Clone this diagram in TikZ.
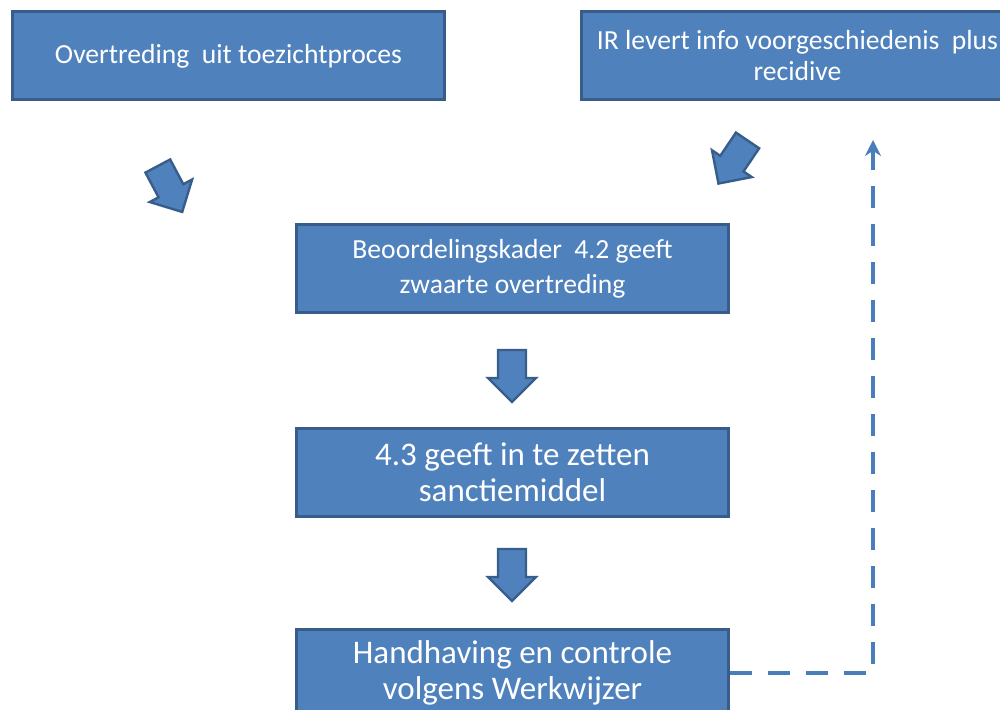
\documentclass[tikz,border=0pt]{standalone}
\usepackage{fontspec}
\setmainfont{Carlito}
\usetikzlibrary{arrows.meta}
\definecolor{vulblauw}{HTML}{4F81BD}
\definecolor{randblauw}{HTML}{385D8A}
\definecolor{lijnblauw}{HTML}{4A7EBB}

\tikzset{
  stap/.style={draw=randblauw, line width=1.5pt, fill=vulblauw, text=white,
    minimum width=216pt, minimum height=44pt, align=center, inner sep=0pt,
    font=\fontsize{13.8}{15.5}\selectfont},
  middenstap/.style={stap, font=\fontsize{13.8}{17.5}\selectfont},
  grotestap/.style={stap, font=\fontsize{16.5}{18}\selectfont},
  blok/.style={draw=randblauw, line width=1.2pt, fill=vulblauw, line join=miter},
  pijl/.pic={\draw[blok] (-14,-26) -- (14,-26) -- (14,2) -- (24,2) -- (0,26) -- (-24,2) -- (-14,2) -- cycle;}
}

\begin{document}
\begin{tikzpicture}[x=0.5pt,y=-0.5pt]
\useasboundingbox (0,0) rectangle (1000,710);
\clip (0,0) rectangle (1000,710);

\node[stap] (overtreding) at (228.5,56) {Overtreding\ \ uit toezichtproces};
\node[stap] (ir) at (797.5,56) {IR levert info voorgeschiedenis\ \ plus\\recidive};

\pic[rotate=28] at (170,189) {pijl};
\pic[rotate=-34] at (733,162) {pijl};

\node[middenstap] (kader) at (512.5,269) {Beoordelingskader\ \ 4.2 geeft\\zwaarte overtreding};
\pic at (512,376) {pijl};
\node[grotestap] (sanctie) at (512.5,472.5) {4.3 geeft in te zetten\\sanctiemiddel};
\pic at (512,575) {pijl};
\node[grotestap] (handhaving) at (512.5,673) {Handhaving en controle\\volgens Werkwijzer};

\coordinate (terug) at (873,140);
\draw[lijnblauw, line width=2pt, dash pattern=on 11pt off 8pt, -{Stealth[length=8pt,width=8pt]}]
  (handhaving.east) -| (terug);

\end{tikzpicture}
\end{document}
